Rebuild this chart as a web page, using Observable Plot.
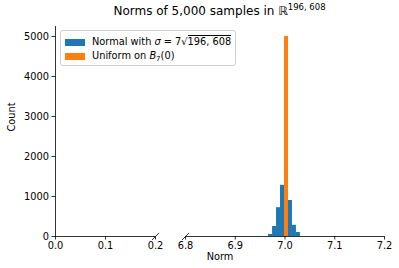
<!DOCTYPE html>
<html>
<head>
<meta charset="utf-8">
<script src="https://cdn.jsdelivr.net/npm/d3@7"></script>
<script src="https://cdn.jsdelivr.net/npm/@observablehq/plot@0.6"></script>
<style>
  html, body { margin: 0; padding: 0; background: #fff; }
  #wrap { position: relative; width: 399px; height: 268px; font-family: "DejaVu Sans", sans-serif; color: #000; }
  #title { position: absolute; left: 55px; width: 329px; top: 4px; text-align: center; font-size: 12px; white-space: nowrap; }
  #title sup { font-size: 8.5px; vertical-align: 5px; line-height: 0; }
  #legend { position: absolute; left: 60px; top: 30px; width: 176px; height: 36px; border: 1px solid #d0d0d0; border-radius: 3px; background: rgba(255,255,255,0.8); font-size: 9.8px; box-sizing: border-box; }
  .row { position: absolute; left: 4px; height: 13px; line-height: 13px; white-space: nowrap; }
  .sw { display: inline-block; width: 20px; height: 7px; vertical-align: -0.5px; margin-right: 7px; }
  .ov { border-top: 0.8px solid #000; }
  .row sub { font-size: 7px; vertical-align: -2px; line-height: 0; }
  #chart { position: absolute; left: 0; top: 0; }
</style>
</head>
<body>
<div id="wrap">
  <div id="chart"></div>
  <div id="title">Norms of 5,000 samples in ℝ<sup>196, 608</sup></div>
  <div id="legend">
    <div class="row" style="top:4px"><span class="sw" style="background:#1f77b4"></span>Normal with <i>σ</i> = 7√<span class="ov">196, 608</span></div>
    <div class="row" style="top:18px"><span class="sw" style="background:#ff7f0e"></span>Uniform on <i>B</i><sub>7</sub>(0)</div>
  </div>
</div>
<script>
// Histogram bin edges (norm values) and counts
const normalEdges = [6.967, 6.975, 6.983, 6.991, 6.999, 7.007, 7.015, 7.023, 7.031];
const normalCounts = [50, 250, 720, 1280, 1420, 900, 280, 100];
const uniformEdges = [6.999, 7.007];
const uniformCounts = [5000];

// Broken x-axis: two segments
const segStarts = [0, 6.8];
const segEnds = [0.2, 7.2];
const breakPoints = [0.2, 6.8];

const xTicks = [0.0, 0.1, 0.2, 6.8, 6.9, 7.0, 7.1, 7.2];
const yTicks = [0, 1000, 2000, 3000, 4000, 5000];
const yMax = 5250;

const normalIdx = normalCounts.map((_, i) => i);
const uniformIdx = uniformCounts.map((_, i) => i);
const segIdx = segStarts.map((_, i) => i);

const slash = {
  draw(ctx, size) {
    const r = Math.sqrt(size / Math.PI);
    ctx.moveTo(-r, r);
    ctx.lineTo(r, -r);
  }
};

const chart = Plot.plot({
  width: 399,
  height: 268,
  marginLeft: 55,
  marginRight: 15,
  marginTop: 26,
  marginBottom: 32,
  style: { fontFamily: "DejaVu Sans, sans-serif", fontSize: "9.8px", color: "#000", background: "#fff", overflow: "visible" },
  x: { type: "linear", domain: [0, 0.2, 6.8, 7.2], range: [55, 155, 185, 384] },
  y: { domain: [0, yMax], range: [236, 26] },
  marks: [
    Plot.rect(normalIdx, { x1: i => normalEdges[i], x2: i => normalEdges[i + 1], y1: 0, y2: i => normalCounts[i], fill: "#1f77b4" }),
    Plot.rect(uniformIdx, { x1: i => uniformEdges[i], x2: i => uniformEdges[i + 1], y1: 0, y2: i => uniformCounts[i], fill: "#ff7f0e" }),
    Plot.ruleY(segIdx, { x1: i => segStarts[i], x2: i => segEnds[i], y: 0, stroke: "#000", strokeWidth: 0.8 }),
    Plot.ruleX([0], { y1: 0, y2: yMax, stroke: "#000", strokeWidth: 0.8 }),
    Plot.dot(breakPoints, { x: d => d, y: 0, symbol: slash, r: 3.6, stroke: "#000", strokeWidth: 0.8, fill: "none" }),
    Plot.axisX({ ticks: xTicks, tickFormat: d => d.toFixed(1), tickSize: 3.5, tickPadding: 2.5, label: null, strokeWidth: 0.8 }),
    Plot.axisY({ ticks: yTicks, tickFormat: d => String(d), tickSize: 3.5, tickPadding: 3, label: null, strokeWidth: 0.8 }),
    Plot.text(["Count"], { frameAnchor: "left", dx: -44, rotate: -90, fontSize: 9.8 }),
    Plot.text(["Norm"], { frameAnchor: "bottom", dy: 23, fontSize: 9.8 })
  ]
});
document.getElementById("chart").appendChild(chart);
</script>
</body>
</html>
